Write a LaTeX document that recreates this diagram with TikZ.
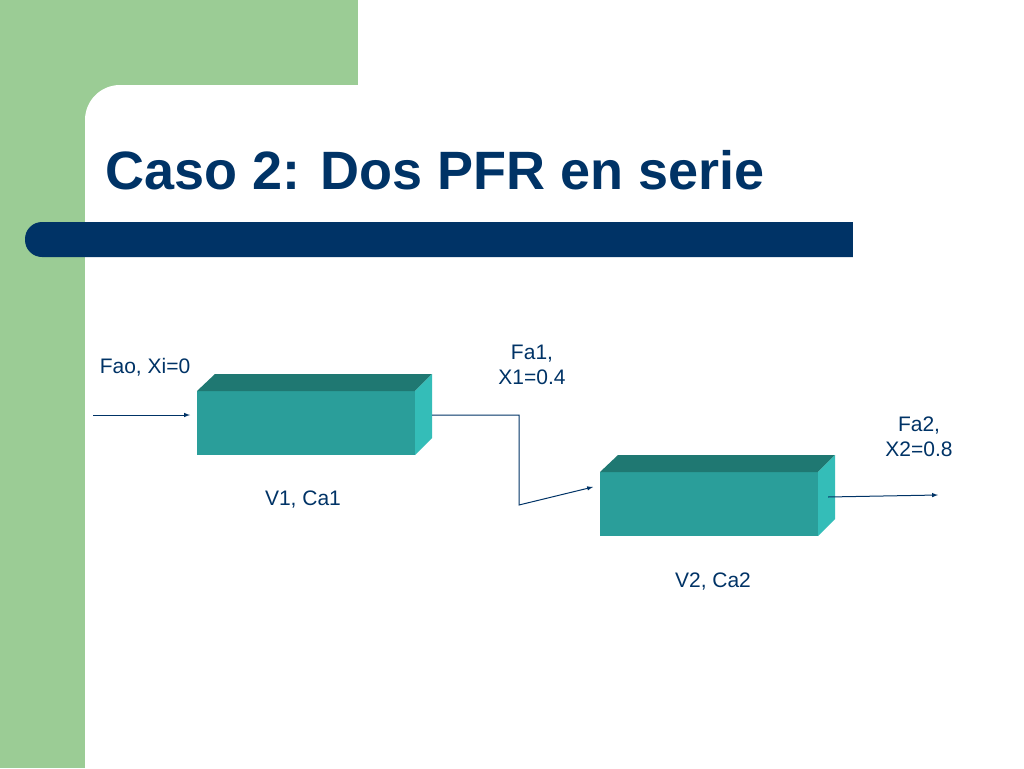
\documentclass[tikz,border=0pt]{standalone}
\usepackage{fontspec}
\setmainfont{Liberation Sans}
\definecolor{navy}{HTML}{003366}
\definecolor{sage}{HTML}{9BCC95}
\definecolor{tealfront}{HTML}{2A9E9A}
\definecolor{tealtop}{HTML}{1F7872}
\definecolor{tealside}{HTML}{34BDB8}
\tikzset{
  lbl/.style={text=navy, font=\fontsize{21}{25}\selectfont, align=center},
  flow/.style={draw=navy, line width=1pt, -latex},
}
\newcommand{\reactor}[3]{% name, x, y of front top-left corner
  \fill[tealfront] (#2,#3) rectangle ++(218,64);
  \fill[tealtop] (#2,#3) -- ++(18,-17) -- ++(217,0) -- ++(-17,17) -- cycle;
  \fill[tealside] (#2+218,#3) -- ++(17,-17) -- ++(0,64) -- ++(-17,17) -- cycle;
  \coordinate (#1in) at (#2,#3+24);
  \coordinate (#1out) at (#2+235,#3+24);
}
\begin{document}
\begin{tikzpicture}[x=1pt,y=-1pt]
  \useasboundingbox (0,0) rectangle (1024,768);
  % background
  \fill[sage] (0,0) rectangle (358,768);
  \begin{scope}
    \clip (0,0) rectangle (1024,768);
    \fill[white, rounded corners=35] (85,85) rectangle (1100,900);
  \end{scope}
  % title and bar
  \node[anchor=base west, text=navy, font=\fontsize{54}{60}\selectfont\bfseries, inner sep=0] (title) at (105,189) {Caso 2: Dos PFR en serie};
  \fill[navy, rounded corners=17] (25,222) rectangle (880,257);
  \fill[white] (853,215) rectangle (900,265);
  % reactors
  \reactor{r1}{197}{391}
  \reactor{r2}{600}{472}
  \coordinate (feed) at (93,415);
  \coordinate (bend1) at (519,415);
  \coordinate (bend2) at (519,505);
  \coordinate (prod) at (938,495);
  \draw[flow] (feed) -- ([xshift=-7]r1in);
  \draw[flow] (r1out) -- (bend1) -- (bend2) -- ([xshift=-7,yshift=9]r2in);
  \draw[flow] ([xshift=-7,yshift=-1]r2out) -- (prod);
  % labels
  \node[lbl] (l0) at (145,367) {Fao, Xi=0};
  \node[lbl] (l1) at (532,365) {Fa1,\\X1=0.4};
  \node[lbl] (l2) at (303,500) {V1, Ca1};
  \node[lbl] (l3) at (919,437) {Fa2,\\X2=0.8};
  \node[lbl] (l4) at (713,582) {V2, Ca2};
\end{tikzpicture}
\end{document}
